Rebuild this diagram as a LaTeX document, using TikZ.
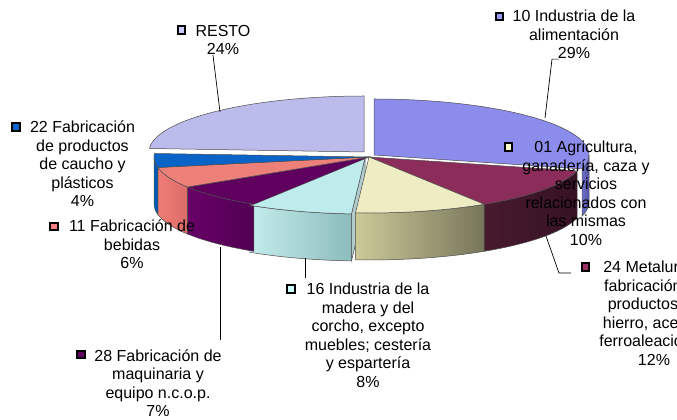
\documentclass[tikz,border=0pt]{standalone}
\usepackage{fontspec}
\setmainfont{Liberation Sans}

% slice colours: T top, L/R side shading, K legend key
\definecolor{alimT}{RGB}{140,140,236}
\definecolor{alimL}{RGB}{110,110,200}
\definecolor{alimR}{RGB}{80,80,160}
\definecolor{alimK}{RGB}{153,153,255}
\definecolor{metalT}{RGB}{139,44,90}
\definecolor{metalL}{RGB}{72,26,46}
\definecolor{metalR}{RGB}{54,18,36}
\definecolor{metalK}{RGB}{153,51,102}
\definecolor{agriT}{RGB}{238,236,194}
\definecolor{agriL}{RGB}{204,201,153}
\definecolor{agriR}{RGB}{120,118,90}
\definecolor{agriK}{RGB}{255,255,204}
\definecolor{maderaT}{RGB}{190,236,236}
\definecolor{maderaL}{RGB}{196,236,236}
\definecolor{maderaR}{RGB}{140,188,188}
\definecolor{maderaK}{RGB}{204,255,255}
\definecolor{maderaW}{RGB}{176,204,204}
\definecolor{maquinT}{RGB}{95,0,95}
\definecolor{maquinL}{RGB}{104,0,104}
\definecolor{maquinR}{RGB}{82,0,82}
\definecolor{maquinK}{RGB}{102,0,102}
\definecolor{bebidaT}{RGB}{238,128,122}
\definecolor{bebidaL}{RGB}{240,124,118}
\definecolor{bebidaR}{RGB}{218,108,104}
\definecolor{bebidaK}{RGB}{255,128,128}
\definecolor{cauchoT}{RGB}{10,100,200}
\definecolor{cauchoL}{RGB}{0,94,190}
\definecolor{cauchoR}{RGB}{0,84,170}
\definecolor{cauchoK}{RGB}{0,102,204}
\definecolor{restoT}{RGB}{188,188,236}
\definecolor{restoK}{RGB}{204,204,255}

\begin{document}
\begin{tikzpicture}[x=1pt,y=1pt]
    \tikzstyle{pieside}=[draw=black!70,line width=0.5pt];
    \tikzstyle{pietop}=[draw=black!70,line width=0.5pt];
    \tikzstyle{key}=[draw=black,line width=1.6pt,minimum size=7.5pt,inner sep=0pt];
    \tikzstyle{lbl}=[align=center,anchor=north,inner sep=0pt,font=\fontsize{16}{18.5}\selectfont];
    \tikzstyle{leader}=[draw=black,line width=0.7pt];
    \useasboundingbox (0,0) rectangle (677,420);
    \clip (0,0) rectangle (677,420);

    % pie
    \begin{scope}[shift={(369,263)}]
        % radial wall seen through the gap
        \filldraw[pieside,fill=maderaW,shift={(-4,-1)}] (0,0) -- (-93.6:215 and 56) -- ++(0,-47) -- (0,-47) -- cycle;
        \foreach \a/\b/\colA/\colB/\dx/\dy in {0/-14.4/alimL/alimR/5/2, -14.4/-57.6/metalL/metalR/0/0,
            -57.6/-93.6/agriL/agriR/0/0, -93.6/-122.4/maderaL/maderaR/-4/-1,
            -122.4/-147.6/maquinL/maquinR/0/0, -147.6/-169.2/bebidaL/bebidaR/0/0,
            -169.2/-180/cauchoL/cauchoR/0/0}{
            \shadedraw[pieside,shift={(\dx,\dy)},left color=\colA,right color=\colB]
                (\a:215 and 56) arc[start angle=\a,end angle=\b,x radius=215,y radius=56]
                -- ++(0,-47) arc[start angle=\b,end angle=\a,x radius=215,y radius=56] -- cycle;
        }
        \foreach \a/\b/\colA/\dx/\dy in {90/-14.4/alimT/5/2, -183.6/-270/restoT/-5/5,
            -14.4/-57.6/metalT/0/0, -57.6/-93.6/agriT/0/0, -93.6/-122.4/maderaT/-4/-1,
            -122.4/-147.6/maquinT/0/0, -147.6/-169.2/bebidaT/0/0, -169.2/-183.6/cauchoT/0/0}{
            \filldraw[pietop,fill=\colA,shift={(\dx,\dy)}]
                (0,0) -- (\a:215 and 56) arc[start angle=\a,end angle=\b,x radius=215,y radius=56] -- cycle;
        }
    \end{scope}

    % labels
    \node[lbl] (resto) at (223,395) {RESTO\\24\%};
    \node[key,fill=restoK] (restoKey) at (181.5,390) {};
    \node[lbl] (alim) at (574,410) {10 Industria de la\\alimentación\\29\%};
    \node[key,fill=alimK] (alimKey) at (499.5,403.5) {};
    \node[lbl] (caucho) at (82.5,299) {22 Fabricación\\de productos\\de caucho y\\plásticos\\4\%};
    \node[key,fill=cauchoK] (cauchoKey) at (16,293) {};
    \node[lbl] (bebida) at (132,200) {11 Fabricación de\\bebidas\\6\%};
    \node[key,fill=bebidaK] (bebidaKey) at (54,193.5) {};
    \node[lbl] (maquin) at (158,70.5) {28 Fabricación de\\maquinaria y\\equipo n.c.o.p.\\7\%};
    \node[key,fill=maquinK] (maquinKey) at (81,65.5) {};
    \node[lbl] (madera) at (368,137) {16 Industria de la\\madera y del\\corcho, excepto\\muebles; cestería\\y espartería\\8\%};
    \node[key,fill=maderaK] (maderaKey) at (291,131) {};
    \node[lbl] (agri) at (586,279) {01 Agricultura,\\ganadería, caza y\\servicios\\relacionados con\\las mismas\\10\%};
    \node[key,fill=agriK] (agriKey) at (508.5,273) {};
    \node[lbl] (metal) at (654,159) {24 Metalurgia;\\fabricación de\\productos de\\hierro, acero y\\ferroaleaciones\\12\%};
    \node[key,fill=metalK] (metalKey) at (585.5,153) {};

    % leader lines
    \coordinate (restoTip) at (220,308);
    \coordinate (alimTip) at (545,302);
    \coordinate (maquinTip) at (220,173);
    \coordinate (maderaTip) at (305,162);
    \coordinate (metalTip) at (546,184);
    \draw[leader] ([xshift=-10pt]resto.south) -- (restoTip);
    \draw[leader] ([xshift=-15pt]alim.south) -- ++(-7,0) -- (alimTip);
    \draw[leader] (maquinTip) -- ++(0,-93);
    \draw[leader] (maderaTip) -- ++(0,-20);
    \draw[leader] ([shift={(-10pt,-6pt)}]metalKey.west) -- ++(-12,0) -- (metalTip);
\end{tikzpicture}
\end{document}
